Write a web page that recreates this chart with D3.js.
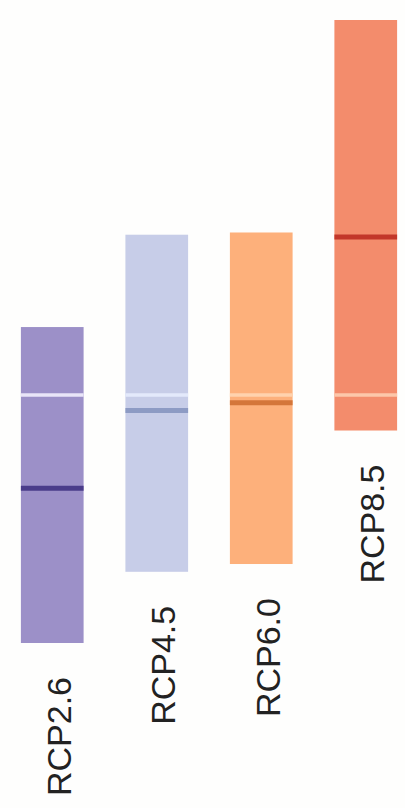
<!DOCTYPE html>
<html>
<head>
<meta charset="utf-8">
<script src="https://cdn.jsdelivr.net/npm/d3@7"></script>
<style>
  html, body { margin: 0; padding: 0; background: #fefefd; }
  svg { display: block; }
</style>
</head>
<body>
<script>
// Projected global mean sea level rise (m), 2081–2100, likely ranges per scenario
const scenarios = ["RCP2.6", "RCP4.5", "RCP6.0", "RCP8.5"];
const lowValues = [0.26, 0.324, 0.331, 0.451];
const highValues = [0.544, 0.627, 0.629, 0.82];
const medianValues = [0.399, 0.469, 0.476, 0.625];
const referenceValues = [0.483, 0.483, 0.483, 0.483];

const fillColors = ["#9c90c8", "#c7cde8", "#fdb07b", "#f38c6c"];
const medianColors = ["#4a3c8a", "#8d9bc4", "#d4763a", "#c2372a"];
const referenceColors = ["#e9e5f8", "#e3e9fb", "#ffd2ad", "#fcc7aa"];

const W = 405, H = 808;

const svg = d3.select("body").append("svg")
  .attr("width", W)
  .attr("height", H);

const x = d3.scaleBand()
  .domain(scenarios)
  .range([0, 418])
  .paddingInner(0.4)
  .paddingOuter(0.2);

const y = d3.scaleLinear()
  .domain([0.26, 0.82])
  .range([643, 20]);

const rows = scenarios.map((s, i) => ({
  name: s,
  low: lowValues[i],
  high: highValues[i],
  median: medianValues[i],
  ref: referenceValues[i],
  fill: fillColors[i],
  medianColor: medianColors[i],
  refColor: referenceColors[i]
}));

const g = svg.append("g");

// range bars
g.selectAll("rect.range")
  .data(rows)
  .join("rect")
  .attr("class", "range")
  .attr("x", d => x(d.name))
  .attr("width", x.bandwidth())
  .attr("y", d => y(d.high))
  .attr("height", d => y(d.low) - y(d.high))
  .attr("fill", d => d.fill);

// pale reference level
g.selectAll("line.ref")
  .data(rows)
  .join("line")
  .attr("class", "ref")
  .attr("x1", d => x(d.name))
  .attr("x2", d => x(d.name) + x.bandwidth())
  .attr("y1", d => y(d.ref))
  .attr("y2", d => y(d.ref))
  .attr("stroke", d => d.refColor)
  .attr("stroke-width", 3.5);

// median
g.selectAll("line.median")
  .data(rows)
  .join("line")
  .attr("class", "median")
  .attr("x1", d => x(d.name))
  .attr("x2", d => x(d.name) + x.bandwidth())
  .attr("y1", d => y(d.median))
  .attr("y2", d => y(d.median))
  .attr("stroke", d => d.medianColor)
  .attr("stroke-width", 5);

// scenario labels, rotated, below each bar
g.selectAll("text.label")
  .data(rows)
  .join("text")
  .attr("class", "label")
  .attr("transform", d => `translate(${x(d.name) + x.bandwidth() / 2 + 18.5},${y(d.low) + 34}) rotate(-90)`)
  .attr("text-anchor", "end")
  .attr("font-family", "'Liberation Sans', Arial, sans-serif")
  .attr("font-size", 34)
  .attr("fill", "#222")
  .text(d => d.name);
</script>
</body>
</html>
